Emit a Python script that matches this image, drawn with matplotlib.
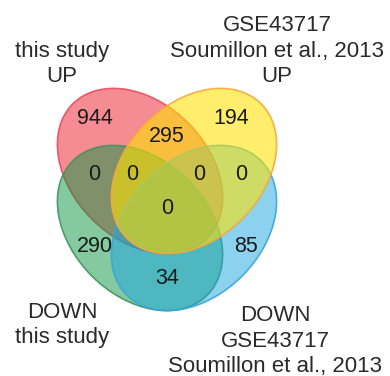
import matplotlib
matplotlib.use("Agg")
import matplotlib.pyplot as plt
from matplotlib.patches import Ellipse

# ── Data ──
set_names = [
    "this study\nUP",
    "GSE43717\nSoumillon et al., 2013\nUP",
    "DOWN\nthis study",
    "DOWN\nGSE43717\nSoumillon et al., 2013",
]
# region counts: key lists member sets (R=red, Y=yellow, G=green, B=blue)
region_keys = ["R", "Y", "RY", "RG", "RYG", "RYB", "YB", "RYGB", "G", "B", "GB"]
region_counts = [944, 194, 295, 0, 0, 0, 0, 0, 290, 85, 34]

# ── Layout (pixel space of the 390x376 picture) ──
ell_centers = [(140, 171), (194, 171), (140, 228), (194, 228)]
ell_angles = [45, -45, 45, -45]
ell_a, ell_b = 95, 68
face_cols = [(0.93, 0.10, 0.17, 0.50), (1.00, 0.89, 0.00, 0.58),
             (0.05, 0.58, 0.26, 0.50), (0.10, 0.65, 0.88, 0.50)]
edge_cols = [(0.92, 0.30, 0.38, 0.9), (0.96, 0.66, 0.25, 0.9),
             (0.25, 0.58, 0.38, 0.9), (0.22, 0.65, 0.86, 0.9)]
draw_order = [0, 2, 3, 1]

region_pos = {
    "R": (95, 119), "Y": (231, 119), "RY": (167, 136),
    "RG": (94, 174), "RYG": (132, 174), "RYB": (199, 174), "YB": (241, 174),
    "RYGB": (167, 209), "G": (95, 247), "B": (246, 247), "GB": (167, 279),
}
name_pos = [(62, 82), (277, 82), (62, 343), (275, 372)]

plt.rcParams["font.family"] = ["Liberation Sans", "DejaVu Sans"]

fig = plt.figure(figsize=(3.9, 3.76), dpi=100)
ax = fig.add_axes([0, 0, 1, 1])
ax.set_xlim(0, 390)
ax.set_ylim(376, 0)
ax.axis("off")

for i in draw_order:
    ax.add_patch(Ellipse(ell_centers[i], 2 * ell_a, 2 * ell_b, angle=ell_angles[i],
                         facecolor=face_cols[i], edgecolor=edge_cols[i], lw=1.2))

for key, n in zip(region_keys, region_counts):
    x, y = region_pos[key]
    ax.text(x, y, str(n), ha="center", va="center", fontsize=15.5, color="#1a1a1a")

for (x, y), name in zip(name_pos, set_names):
    ax.text(x, y, name, ha="center", va="baseline", fontsize=16, color="#2a2a2a",
            linespacing=1.27, multialignment="center")

fig.savefig("out.png", dpi=100)
